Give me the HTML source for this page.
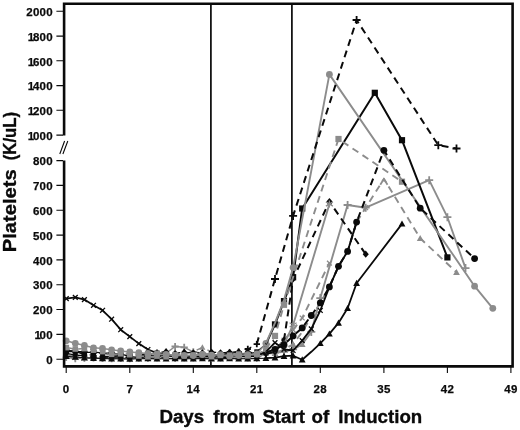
<!DOCTYPE html>
<html lang="en">
<head>
<meta charset="utf-8">
<title>Platelets by Days from Start of Induction</title>
<style>
html,body{margin:0;padding:0;background:#fff;}
body{width:520px;height:430px;overflow:hidden;}
svg{display:block;}
.t{font-family:"Liberation Sans",sans-serif;font-weight:bold;font-size:11.5px;fill:#0a0a0a;letter-spacing:0.3px;stroke:#0a0a0a;stroke-width:0.25px;}
.ttl{font-family:"Liberation Sans",sans-serif;font-weight:bold;font-size:18.7px;fill:#0a0a0a;stroke:#0a0a0a;stroke-width:0.35px;}
</style>
</head>
<body>
<svg width="520" height="430" viewBox="0 0 520 430">
<rect width="520" height="430" fill="#fff"/>
<path d="M210.9 4V366M291.9 4V366" stroke="#0a0a0a" stroke-width="1.7" fill="none"/>
<path d="M66.2 356.7L75.3 357.8L84.4 358.3L93.5 357.8L102.5 358.5L111.6 358.1L120.7 358.4L129.8 358.5L138.8 357.5L147.9 358.7L157 358.2L166.1 357.9L175.1 358.7L184.2 358.2L193.3 358.2L202.4 357.6L211.4 358.9L220.5 358.2L229.6 357.8L238.7 357.9L247.8 358.3L256.8 358.9L265.9 352.7" stroke="#8c8c8c" stroke-width="1.5" fill="none" stroke-linejoin="round"/>
<path d="M63.1 354.9L69.4 358.6M63.1 358.6L69.4 354.9M66.2 353.6V359.9" stroke="#8c8c8c" stroke-width="1.3" fill="none"/>
<path d="M72.2 355.9L78.5 359.7M72.2 359.7L78.5 355.9M75.3 354.7V361" stroke="#8c8c8c" stroke-width="1.3" fill="none"/>
<path d="M81.2 356.4L87.6 360.2M81.2 360.2L87.6 356.4M84.4 355.1V361.4" stroke="#8c8c8c" stroke-width="1.3" fill="none"/>
<path d="M90.3 355.9L96.6 359.7M90.3 359.7L96.6 355.9M93.5 354.6V360.9" stroke="#8c8c8c" stroke-width="1.3" fill="none"/>
<path d="M99.4 356.6L105.7 360.4M99.4 360.4L105.7 356.6M102.5 355.4V361.7" stroke="#8c8c8c" stroke-width="1.3" fill="none"/>
<path d="M108.5 356.2L114.8 360M108.5 360L114.8 356.2M111.6 355V361.3" stroke="#8c8c8c" stroke-width="1.3" fill="none"/>
<path d="M117.5 356.6L123.8 360.3M117.5 360.3L123.8 356.6M120.7 355.3V361.6" stroke="#8c8c8c" stroke-width="1.3" fill="none"/>
<path d="M126.6 356.6L132.9 360.3M126.6 360.3L132.9 356.6M129.8 355.3V361.6" stroke="#8c8c8c" stroke-width="1.3" fill="none"/>
<path d="M135.7 355.6L142 359.4M135.7 359.4L142 355.6M138.8 354.4V360.7" stroke="#8c8c8c" stroke-width="1.3" fill="none"/>
<path d="M144.8 356.9L151.1 360.6M144.8 360.6L151.1 356.9M147.9 355.6V361.9" stroke="#8c8c8c" stroke-width="1.3" fill="none"/>
<path d="M153.8 356.4L160.2 360.1M153.8 360.1L160.2 356.4M157 355.1V361.4" stroke="#8c8c8c" stroke-width="1.3" fill="none"/>
<path d="M162.9 356L169.2 359.8M162.9 359.8L169.2 356M166.1 354.7V361" stroke="#8c8c8c" stroke-width="1.3" fill="none"/>
<path d="M172 356.8L178.3 360.6M172 360.6L178.3 356.8M175.1 355.6V361.9" stroke="#8c8c8c" stroke-width="1.3" fill="none"/>
<path d="M181.1 356.3L187.4 360.1M181.1 360.1L187.4 356.3M184.2 355.1V361.4" stroke="#8c8c8c" stroke-width="1.3" fill="none"/>
<path d="M190.1 356.3L196.4 360.1M190.1 360.1L196.4 356.3M193.3 355.1V361.4" stroke="#8c8c8c" stroke-width="1.3" fill="none"/>
<path d="M199.2 355.7L205.5 359.5M199.2 359.5L205.5 355.7M202.4 354.4V360.7" stroke="#8c8c8c" stroke-width="1.3" fill="none"/>
<path d="M208.3 357L214.6 360.8M208.3 360.8L214.6 357M211.4 355.8V362.1" stroke="#8c8c8c" stroke-width="1.3" fill="none"/>
<path d="M217.4 356.3L223.7 360.1M217.4 360.1L223.7 356.3M220.5 355.1V361.4" stroke="#8c8c8c" stroke-width="1.3" fill="none"/>
<path d="M226.4 355.9L232.8 359.7M226.4 359.7L232.8 355.9M229.6 354.6V360.9" stroke="#8c8c8c" stroke-width="1.3" fill="none"/>
<path d="M235.5 356L241.8 359.8M235.5 359.8L241.8 356M238.7 354.8V361.1" stroke="#8c8c8c" stroke-width="1.3" fill="none"/>
<path d="M244.6 356.4L250.9 360.2M244.6 360.2L250.9 356.4M247.8 355.2V361.5" stroke="#8c8c8c" stroke-width="1.3" fill="none"/>
<path d="M253.7 357L260 360.8M253.7 360.8L260 357M256.8 355.8V362.1" stroke="#8c8c8c" stroke-width="1.3" fill="none"/>
<path d="M262.8 350.9L269 354.6M262.8 354.6L269 350.9M265.9 349.6V355.9" stroke="#8c8c8c" stroke-width="1.3" fill="none"/>
<path d="M66.2 357.5L75.3 358.6L84.4 358.1L93.5 357.9L102.5 358.5L111.6 358.6L120.7 358.4L129.8 358.7L138.8 358.1L147.9 358L157 357.2L166.1 353.2L175.1 346.5L184.2 347.3L193.3 351.8L202.4 353.3L211.4 354L220.5 355.9L229.6 354.6L238.7 353.4L247.8 353.5L256.8 354L265.9 352.4" stroke="#8c8c8c" stroke-width="1.5" fill="none" stroke-linejoin="round"/>
<path d="M62.6 357.5H69.8M66.2 353.9V361.1" stroke="#8c8c8c" stroke-width="1.8" fill="none"/>
<path d="M71.7 358.6H78.9M75.3 355V362.2" stroke="#8c8c8c" stroke-width="1.8" fill="none"/>
<path d="M80.8 358.1H88M84.4 354.5V361.7" stroke="#8c8c8c" stroke-width="1.8" fill="none"/>
<path d="M89.9 357.9H97.1M93.5 354.3V361.5" stroke="#8c8c8c" stroke-width="1.8" fill="none"/>
<path d="M99 358.5H106.1M102.5 354.9V362.1" stroke="#8c8c8c" stroke-width="1.8" fill="none"/>
<path d="M108 358.6H115.2M111.6 355V362.2" stroke="#8c8c8c" stroke-width="1.8" fill="none"/>
<path d="M117.1 358.4H124.3M120.7 354.8V362" stroke="#8c8c8c" stroke-width="1.8" fill="none"/>
<path d="M126.2 358.7H133.4M129.8 355.1V362.3" stroke="#8c8c8c" stroke-width="1.8" fill="none"/>
<path d="M135.2 358.1H142.4M138.8 354.5V361.7" stroke="#8c8c8c" stroke-width="1.8" fill="none"/>
<path d="M144.3 358H151.5M147.9 354.4V361.6" stroke="#8c8c8c" stroke-width="1.8" fill="none"/>
<path d="M153.4 357.2H160.6M157 353.6V360.8" stroke="#8c8c8c" stroke-width="1.8" fill="none"/>
<path d="M162.5 353.2H169.7M166.1 349.6V356.8" stroke="#8c8c8c" stroke-width="1.8" fill="none"/>
<path d="M171.5 346.5H178.7M175.1 342.9V350.1" stroke="#8c8c8c" stroke-width="1.8" fill="none"/>
<path d="M180.6 347.3H187.8M184.2 343.7V350.9" stroke="#8c8c8c" stroke-width="1.8" fill="none"/>
<path d="M189.7 351.8H196.9M193.3 348.2V355.4" stroke="#8c8c8c" stroke-width="1.8" fill="none"/>
<path d="M198.8 353.3H206M202.4 349.7V356.9" stroke="#8c8c8c" stroke-width="1.8" fill="none"/>
<path d="M207.8 354H215M211.4 350.4V357.6" stroke="#8c8c8c" stroke-width="1.8" fill="none"/>
<path d="M216.9 355.9H224.1M220.5 352.3V359.5" stroke="#8c8c8c" stroke-width="1.8" fill="none"/>
<path d="M226 354.6H233.2M229.6 351V358.2" stroke="#8c8c8c" stroke-width="1.8" fill="none"/>
<path d="M235.1 353.4H242.3M238.7 349.8V357" stroke="#8c8c8c" stroke-width="1.8" fill="none"/>
<path d="M244.2 353.5H251.3M247.8 349.9V357.1" stroke="#8c8c8c" stroke-width="1.8" fill="none"/>
<path d="M253.2 354H260.4M256.8 350.4V357.6" stroke="#8c8c8c" stroke-width="1.8" fill="none"/>
<path d="M262.3 352.4H269.5M265.9 348.8V356" stroke="#8c8c8c" stroke-width="1.8" fill="none"/>
<path d="M66.2 355.1L75.3 355.8L84.4 355.2L93.5 356.6L102.5 356.1L111.6 356.7L120.7 356.3L129.8 357.1L138.8 357.4L147.9 357.4L157 355L166.1 355.2L175.1 355L184.2 356.5L193.3 357.1L202.4 357.4L211.4 356.5L220.5 356.8L229.6 356.1L238.7 357.3L247.8 355L256.8 354.6L265.9 353.2" stroke="#8c8c8c" stroke-width="1.5" fill="none" stroke-linejoin="round" stroke-dasharray="7 5"/>
<path d="M64.1 352.9L68.4 357.2M64.1 357.2L68.4 352.9" stroke="#8c8c8c" stroke-width="1.3" fill="none"/>
<path d="M73.2 353.7L77.5 358M73.2 358L77.5 353.7" stroke="#8c8c8c" stroke-width="1.3" fill="none"/>
<path d="M82.2 353L86.6 357.3M82.2 357.3L86.6 353" stroke="#8c8c8c" stroke-width="1.3" fill="none"/>
<path d="M91.3 354.5L95.6 358.8M91.3 358.8L95.6 354.5" stroke="#8c8c8c" stroke-width="1.3" fill="none"/>
<path d="M100.4 353.9L104.7 358.2M100.4 358.2L104.7 353.9" stroke="#8c8c8c" stroke-width="1.3" fill="none"/>
<path d="M109.5 354.5L113.8 358.9M109.5 358.9L113.8 354.5" stroke="#8c8c8c" stroke-width="1.3" fill="none"/>
<path d="M118.5 354.1L122.9 358.5M118.5 358.5L122.9 354.1" stroke="#8c8c8c" stroke-width="1.3" fill="none"/>
<path d="M127.6 354.9L131.9 359.2M127.6 359.2L131.9 354.9" stroke="#8c8c8c" stroke-width="1.3" fill="none"/>
<path d="M136.7 355.2L141 359.6M136.7 359.6L141 355.2" stroke="#8c8c8c" stroke-width="1.3" fill="none"/>
<path d="M145.8 355.2L150.1 359.5M145.8 359.5L150.1 355.2" stroke="#8c8c8c" stroke-width="1.3" fill="none"/>
<path d="M154.8 352.9L159.2 357.2M154.8 357.2L159.2 352.9" stroke="#8c8c8c" stroke-width="1.3" fill="none"/>
<path d="M163.9 353.1L168.2 357.4M163.9 357.4L168.2 353.1" stroke="#8c8c8c" stroke-width="1.3" fill="none"/>
<path d="M173 352.9L177.3 357.2M173 357.2L177.3 352.9" stroke="#8c8c8c" stroke-width="1.3" fill="none"/>
<path d="M182.1 354.4L186.4 358.7M182.1 358.7L186.4 354.4" stroke="#8c8c8c" stroke-width="1.3" fill="none"/>
<path d="M191.1 354.9L195.5 359.2M191.1 359.2L195.5 354.9" stroke="#8c8c8c" stroke-width="1.3" fill="none"/>
<path d="M200.2 355.2L204.5 359.5M200.2 359.5L204.5 355.2" stroke="#8c8c8c" stroke-width="1.3" fill="none"/>
<path d="M209.3 354.3L213.6 358.6M209.3 358.6L213.6 354.3" stroke="#8c8c8c" stroke-width="1.3" fill="none"/>
<path d="M218.4 354.7L222.7 359M218.4 359L222.7 354.7" stroke="#8c8c8c" stroke-width="1.3" fill="none"/>
<path d="M227.4 354L231.8 358.3M227.4 358.3L231.8 354" stroke="#8c8c8c" stroke-width="1.3" fill="none"/>
<path d="M236.5 355.1L240.8 359.4M236.5 359.4L240.8 355.1" stroke="#8c8c8c" stroke-width="1.3" fill="none"/>
<path d="M245.6 352.8L249.9 357.1M245.6 357.1L249.9 352.8" stroke="#8c8c8c" stroke-width="1.3" fill="none"/>
<path d="M254.7 352.4L259 356.8M254.7 356.8L259 352.4" stroke="#8c8c8c" stroke-width="1.3" fill="none"/>
<path d="M263.7 351.1L268.1 355.4M263.7 355.4L268.1 351.1" stroke="#8c8c8c" stroke-width="1.3" fill="none"/>
<path d="M66.2 350.3L75.3 351.7L84.4 352.6L93.5 353.6L102.5 353L111.6 355.6L120.7 355.5L129.8 354.6L138.8 353.8L147.9 354.7L157 355.3L166.1 355.3L175.1 354.8L184.2 354.5L193.3 351.8L202.4 347.3L211.4 351.8L220.5 354.8L229.6 354.5L238.7 355.4L247.8 355.9L256.8 355L265.9 353.4" stroke="#8c8c8c" stroke-width="1.5" fill="none" stroke-linejoin="round" stroke-dasharray="7 5"/>
<path d="M66.2 347.2L69.3 352.8L63.2 352.8Z" fill="#8c8c8c"/>
<path d="M75.3 348.6L78.4 354.1L72.3 354.1Z" fill="#8c8c8c"/>
<path d="M84.4 349.5L87.5 355L81.3 355Z" fill="#8c8c8c"/>
<path d="M93.5 350.5L96.5 356L90.4 356Z" fill="#8c8c8c"/>
<path d="M102.5 350L105.6 355.5L99.5 355.5Z" fill="#8c8c8c"/>
<path d="M111.6 352.5L114.7 358L108.6 358Z" fill="#8c8c8c"/>
<path d="M120.7 352.5L123.8 358L117.6 358Z" fill="#8c8c8c"/>
<path d="M129.8 351.6L132.8 357.1L126.7 357.1Z" fill="#8c8c8c"/>
<path d="M138.8 350.7L141.9 356.2L135.8 356.2Z" fill="#8c8c8c"/>
<path d="M147.9 351.6L151 357.1L144.9 357.1Z" fill="#8c8c8c"/>
<path d="M157 352.3L160.1 357.8L153.9 357.8Z" fill="#8c8c8c"/>
<path d="M166.1 352.2L169.1 357.7L163 357.7Z" fill="#8c8c8c"/>
<path d="M175.1 351.8L178.2 357.3L172.1 357.3Z" fill="#8c8c8c"/>
<path d="M184.2 351.4L187.3 356.9L181.2 356.9Z" fill="#8c8c8c"/>
<path d="M193.3 348.7L196.4 354.2L190.2 354.2Z" fill="#8c8c8c"/>
<path d="M202.4 344.2L205.4 349.7L199.3 349.7Z" fill="#8c8c8c"/>
<path d="M211.4 348.7L214.5 354.2L208.4 354.2Z" fill="#8c8c8c"/>
<path d="M220.5 351.8L223.6 357.3L217.5 357.3Z" fill="#8c8c8c"/>
<path d="M229.6 351.4L232.7 356.9L226.5 356.9Z" fill="#8c8c8c"/>
<path d="M238.7 352.4L241.7 357.9L235.6 357.9Z" fill="#8c8c8c"/>
<path d="M247.8 352.8L250.8 358.3L244.7 358.3Z" fill="#8c8c8c"/>
<path d="M256.8 351.9L259.9 357.4L253.8 357.4Z" fill="#8c8c8c"/>
<path d="M265.9 350.4L269 355.9L262.8 355.9Z" fill="#8c8c8c"/>
<path d="M66.2 356.2L75.3 357L84.4 357.7L93.5 358.2L102.5 358.5L111.6 358.7L120.7 358.7L129.8 359L138.8 358.7L147.9 358.5L157 358.7L166.1 358.7L175.1 358.5L184.2 358.7L193.3 358.7L202.4 358.5L211.4 358.7L220.5 358.7L229.6 358.5L238.7 358.7L247.8 358.7L256.8 358.5L265.9 358.2" stroke="#0a0a0a" stroke-width="1.1" fill="none" stroke-linejoin="round"/>
<path d="M66.2 352.8L69.7 358.9L62.9 358.9Z" fill="#0a0a0a"/>
<path d="M75.3 353.6L78.7 359.7L71.9 359.7Z" fill="#0a0a0a"/>
<path d="M84.4 354.3L87.8 360.4L81 360.4Z" fill="#0a0a0a"/>
<path d="M93.5 354.8L96.9 360.9L90.1 360.9Z" fill="#0a0a0a"/>
<path d="M102.5 355.1L106 361.2L99.1 361.2Z" fill="#0a0a0a"/>
<path d="M111.6 355.3L115 361.4L108.2 361.4Z" fill="#0a0a0a"/>
<path d="M120.7 355.3L124.1 361.4L117.3 361.4Z" fill="#0a0a0a"/>
<path d="M129.8 355.6L133.2 361.7L126.4 361.7Z" fill="#0a0a0a"/>
<path d="M138.8 355.3L142.2 361.4L135.4 361.4Z" fill="#0a0a0a"/>
<path d="M147.9 355.1L151.3 361.2L144.5 361.2Z" fill="#0a0a0a"/>
<path d="M157 355.3L160.4 361.4L153.6 361.4Z" fill="#0a0a0a"/>
<path d="M166.1 355.3L169.5 361.4L162.7 361.4Z" fill="#0a0a0a"/>
<path d="M175.1 355.1L178.5 361.2L171.7 361.2Z" fill="#0a0a0a"/>
<path d="M184.2 355.3L187.6 361.4L180.8 361.4Z" fill="#0a0a0a"/>
<path d="M193.3 355.3L196.7 361.4L189.9 361.4Z" fill="#0a0a0a"/>
<path d="M202.4 355.1L205.8 361.2L199 361.2Z" fill="#0a0a0a"/>
<path d="M211.4 355.3L214.8 361.4L208 361.4Z" fill="#0a0a0a"/>
<path d="M220.5 355.3L223.9 361.4L217.1 361.4Z" fill="#0a0a0a"/>
<path d="M229.6 355.1L233 361.2L226.2 361.2Z" fill="#0a0a0a"/>
<path d="M238.7 355.3L242.1 361.4L235.3 361.4Z" fill="#0a0a0a"/>
<path d="M247.8 355.3L251.2 361.4L244.3 361.4Z" fill="#0a0a0a"/>
<path d="M256.8 355.1L260.2 361.2L253.4 361.2Z" fill="#0a0a0a"/>
<path d="M265.9 354.8L269.3 360.9L262.5 360.9Z" fill="#0a0a0a"/>
<path d="M66.2 298.6L75.3 297.4L84.4 299.6L93.5 305.3L102.5 310.3L111.6 319.2L120.7 329.7L129.8 336.6L138.8 343.6L147.9 349.5L157 353L166.1 354.4L175.1 356.1L184.2 356L193.3 356.5L202.4 356.3L211.4 355.9L220.5 355.4L229.6 353.8L238.7 355.7L247.8 356.6L256.8 355.8L265.9 351.8" stroke="#0a0a0a" stroke-width="1.8" fill="none" stroke-linejoin="round"/>
<path d="M63.9 296.2L68.7 301M63.9 301L68.7 296.2" stroke="#0a0a0a" stroke-width="1.3" fill="none"/>
<path d="M72.9 295L77.7 299.8M72.9 299.8L77.7 295" stroke="#0a0a0a" stroke-width="1.3" fill="none"/>
<path d="M82 297.2L86.8 302M82 302L86.8 297.2" stroke="#0a0a0a" stroke-width="1.3" fill="none"/>
<path d="M91.1 302.9L95.9 307.7M91.1 307.7L95.9 302.9" stroke="#0a0a0a" stroke-width="1.3" fill="none"/>
<path d="M100.1 307.9L105 312.7M100.1 312.7L105 307.9" stroke="#0a0a0a" stroke-width="1.3" fill="none"/>
<path d="M109.2 316.8L114 321.6M109.2 321.6L114 316.8" stroke="#0a0a0a" stroke-width="1.3" fill="none"/>
<path d="M118.3 327.3L123.1 332.1M118.3 332.1L123.1 327.3" stroke="#0a0a0a" stroke-width="1.3" fill="none"/>
<path d="M127.4 334.2L132.2 339M127.4 339L132.2 334.2" stroke="#0a0a0a" stroke-width="1.3" fill="none"/>
<path d="M136.4 341.2L141.2 346M136.4 346L141.2 341.2" stroke="#0a0a0a" stroke-width="1.3" fill="none"/>
<path d="M145.5 347.1L150.3 351.9M145.5 351.9L150.3 347.1" stroke="#0a0a0a" stroke-width="1.3" fill="none"/>
<path d="M154.6 350.6L159.4 355.4M154.6 355.4L159.4 350.6" stroke="#0a0a0a" stroke-width="1.3" fill="none"/>
<path d="M163.7 352L168.5 356.8M163.7 356.8L168.5 352" stroke="#0a0a0a" stroke-width="1.3" fill="none"/>
<path d="M172.7 353.7L177.5 358.5M172.7 358.5L177.5 353.7" stroke="#0a0a0a" stroke-width="1.3" fill="none"/>
<path d="M181.8 353.6L186.6 358.4M181.8 358.4L186.6 353.6" stroke="#0a0a0a" stroke-width="1.3" fill="none"/>
<path d="M190.9 354.1L195.7 358.9M190.9 358.9L195.7 354.1" stroke="#0a0a0a" stroke-width="1.3" fill="none"/>
<path d="M200 353.9L204.8 358.7M200 358.7L204.8 353.9" stroke="#0a0a0a" stroke-width="1.3" fill="none"/>
<path d="M209 353.5L213.8 358.3M209 358.3L213.8 353.5" stroke="#0a0a0a" stroke-width="1.3" fill="none"/>
<path d="M218.1 353L222.9 357.8M218.1 357.8L222.9 353" stroke="#0a0a0a" stroke-width="1.3" fill="none"/>
<path d="M227.2 351.4L232 356.2M227.2 356.2L232 351.4" stroke="#0a0a0a" stroke-width="1.3" fill="none"/>
<path d="M236.3 353.3L241.1 358.1M236.3 358.1L241.1 353.3" stroke="#0a0a0a" stroke-width="1.3" fill="none"/>
<path d="M245.3 354.2L250.2 359M245.3 359L250.2 354.2" stroke="#0a0a0a" stroke-width="1.3" fill="none"/>
<path d="M254.4 353.4L259.2 358.2M254.4 358.2L259.2 353.4" stroke="#0a0a0a" stroke-width="1.3" fill="none"/>
<path d="M263.5 349.4L268.3 354.2M263.5 354.2L268.3 349.4" stroke="#0a0a0a" stroke-width="1.3" fill="none"/>
<path d="M66.2 353.3L75.3 355.1L84.4 355.7L93.5 357.4L102.5 356.5L111.6 356.7L120.7 355.5L129.8 355.7L138.8 355.3L147.9 354.2L157 352.7L166.1 351.7L175.1 353.3L184.2 352.2L193.3 352.8L202.4 352.9L211.4 352.1L220.5 352.8L229.6 352.3L238.7 351.8L247.8 351.9L256.8 353.4L265.9 353.7" stroke="#0a0a0a" stroke-width="1.2" fill="none" stroke-linejoin="round" stroke-dasharray="7 5"/>
<path d="M66.2 349.7L69.3 353.3L66.2 356.9L63.2 353.3Z" fill="#0a0a0a"/>
<path d="M75.3 351.5L78.4 355.1L75.3 358.7L72.3 355.1Z" fill="#0a0a0a"/>
<path d="M84.4 352.1L87.5 355.7L84.4 359.3L81.3 355.7Z" fill="#0a0a0a"/>
<path d="M93.5 353.8L96.5 357.4L93.5 361L90.4 357.4Z" fill="#0a0a0a"/>
<path d="M102.5 352.9L105.6 356.5L102.5 360.1L99.5 356.5Z" fill="#0a0a0a"/>
<path d="M111.6 353.1L114.7 356.7L111.6 360.3L108.6 356.7Z" fill="#0a0a0a"/>
<path d="M120.7 351.9L123.8 355.5L120.7 359.1L117.6 355.5Z" fill="#0a0a0a"/>
<path d="M129.8 352.1L132.8 355.7L129.8 359.3L126.7 355.7Z" fill="#0a0a0a"/>
<path d="M138.8 351.7L141.9 355.3L138.8 358.9L135.8 355.3Z" fill="#0a0a0a"/>
<path d="M147.9 350.6L151 354.2L147.9 357.8L144.9 354.2Z" fill="#0a0a0a"/>
<path d="M157 349.1L160.1 352.7L157 356.3L153.9 352.7Z" fill="#0a0a0a"/>
<path d="M166.1 348.1L169.1 351.7L166.1 355.3L163 351.7Z" fill="#0a0a0a"/>
<path d="M175.1 349.7L178.2 353.3L175.1 356.9L172.1 353.3Z" fill="#0a0a0a"/>
<path d="M184.2 348.6L187.3 352.2L184.2 355.8L181.2 352.2Z" fill="#0a0a0a"/>
<path d="M193.3 349.2L196.4 352.8L193.3 356.4L190.2 352.8Z" fill="#0a0a0a"/>
<path d="M202.4 349.3L205.4 352.9L202.4 356.5L199.3 352.9Z" fill="#0a0a0a"/>
<path d="M211.4 348.5L214.5 352.1L211.4 355.7L208.4 352.1Z" fill="#0a0a0a"/>
<path d="M220.5 349.2L223.6 352.8L220.5 356.4L217.5 352.8Z" fill="#0a0a0a"/>
<path d="M229.6 348.7L232.7 352.3L229.6 355.9L226.5 352.3Z" fill="#0a0a0a"/>
<path d="M238.7 348.2L241.7 351.8L238.7 355.4L235.6 351.8Z" fill="#0a0a0a"/>
<path d="M247.8 348.3L250.8 351.9L247.8 355.5L244.7 351.9Z" fill="#0a0a0a"/>
<path d="M256.8 349.8L259.9 353.4L256.8 357L253.8 353.4Z" fill="#0a0a0a"/>
<path d="M265.9 350.1L269 353.7L265.9 357.3L262.8 353.7Z" fill="#0a0a0a"/>
<path d="M66.2 351.7L75.3 351.5L84.4 354.6L93.5 355L102.5 357.3L111.6 357L120.7 357.2L129.8 357.4L138.8 357.7L147.9 356.7L157 356.5L166.1 358L175.1 358.5L184.2 357.5L193.3 356L202.4 356.8L211.4 355.9L220.5 357.8L229.6 357.3L238.7 355.7L247.8 356L256.8 355.2L265.9 352.7" stroke="#0a0a0a" stroke-width="1.2" fill="none" stroke-linejoin="round" stroke-dasharray="7 5"/>
<circle cx="66.2" cy="351.7" r="2.7" fill="#0a0a0a"/>
<circle cx="75.3" cy="351.5" r="2.7" fill="#0a0a0a"/>
<circle cx="84.4" cy="354.6" r="2.7" fill="#0a0a0a"/>
<circle cx="93.5" cy="355" r="2.7" fill="#0a0a0a"/>
<circle cx="102.5" cy="357.3" r="2.7" fill="#0a0a0a"/>
<circle cx="111.6" cy="357" r="2.7" fill="#0a0a0a"/>
<circle cx="120.7" cy="357.2" r="2.7" fill="#0a0a0a"/>
<circle cx="129.8" cy="357.4" r="2.7" fill="#0a0a0a"/>
<circle cx="138.8" cy="357.7" r="2.7" fill="#0a0a0a"/>
<circle cx="147.9" cy="356.7" r="2.7" fill="#0a0a0a"/>
<circle cx="157" cy="356.5" r="2.7" fill="#0a0a0a"/>
<circle cx="166.1" cy="358" r="2.7" fill="#0a0a0a"/>
<circle cx="175.1" cy="358.5" r="2.7" fill="#0a0a0a"/>
<circle cx="184.2" cy="357.5" r="2.7" fill="#0a0a0a"/>
<circle cx="193.3" cy="356" r="2.7" fill="#0a0a0a"/>
<circle cx="202.4" cy="356.8" r="2.7" fill="#0a0a0a"/>
<circle cx="211.4" cy="355.9" r="2.7" fill="#0a0a0a"/>
<circle cx="220.5" cy="357.8" r="2.7" fill="#0a0a0a"/>
<circle cx="229.6" cy="357.3" r="2.7" fill="#0a0a0a"/>
<circle cx="238.7" cy="355.7" r="2.7" fill="#0a0a0a"/>
<circle cx="247.8" cy="356" r="2.7" fill="#0a0a0a"/>
<circle cx="256.8" cy="355.2" r="2.7" fill="#0a0a0a"/>
<circle cx="265.9" cy="352.7" r="2.7" fill="#0a0a0a"/>
<path d="M66.2 351.2L75.3 351.2L84.4 352.6L93.5 352.1L102.5 352.9L111.6 353.8L120.7 353.9L129.8 356.6L138.8 357.3L147.9 356.2L157 356.1L166.1 355.7L175.1 356.9L184.2 357.8L193.3 356.5L202.4 356.3L211.4 357.1L220.5 356.8L229.6 356.5L238.7 354.3L247.8 354.2L256.8 351.8L265.9 344.3" stroke="#0a0a0a" stroke-width="1.2" fill="none" stroke-linejoin="round"/>
<rect x="63.8" y="348.7" width="5" height="5" fill="#0a0a0a"/>
<rect x="72.8" y="348.7" width="5" height="5" fill="#0a0a0a"/>
<rect x="81.9" y="350.1" width="5" height="5" fill="#0a0a0a"/>
<rect x="91" y="349.6" width="5" height="5" fill="#0a0a0a"/>
<rect x="100.1" y="350.4" width="5" height="5" fill="#0a0a0a"/>
<rect x="109.1" y="351.3" width="5" height="5" fill="#0a0a0a"/>
<rect x="118.2" y="351.5" width="5" height="5" fill="#0a0a0a"/>
<rect x="127.3" y="354.1" width="5" height="5" fill="#0a0a0a"/>
<rect x="136.4" y="354.8" width="5" height="5" fill="#0a0a0a"/>
<rect x="145.4" y="353.7" width="5" height="5" fill="#0a0a0a"/>
<rect x="154.5" y="353.6" width="5" height="5" fill="#0a0a0a"/>
<rect x="163.6" y="353.2" width="5" height="5" fill="#0a0a0a"/>
<rect x="172.7" y="354.4" width="5" height="5" fill="#0a0a0a"/>
<rect x="181.7" y="355.3" width="5" height="5" fill="#0a0a0a"/>
<rect x="190.8" y="354" width="5" height="5" fill="#0a0a0a"/>
<rect x="199.9" y="353.9" width="5" height="5" fill="#0a0a0a"/>
<rect x="209" y="354.6" width="5" height="5" fill="#0a0a0a"/>
<rect x="218" y="354.3" width="5" height="5" fill="#0a0a0a"/>
<rect x="227.1" y="354" width="5" height="5" fill="#0a0a0a"/>
<rect x="236.2" y="351.8" width="5" height="5" fill="#0a0a0a"/>
<rect x="245.3" y="351.8" width="5" height="5" fill="#0a0a0a"/>
<rect x="254.3" y="349.3" width="5" height="5" fill="#0a0a0a"/>
<rect x="263.4" y="341.8" width="5" height="5" fill="#0a0a0a"/>
<path d="M66.2 350.1L75.3 351.5L84.4 351.6L93.5 352.3L102.5 353L111.6 353L120.7 354.1L129.8 354.4L138.8 354.6L147.9 355.4L157 355.9L166.1 354.6L175.1 356.1L184.2 356.1L193.3 355.2L202.4 354.7L211.4 355.6L220.5 355.1L229.6 352.7L238.7 351.8L247.8 349L256.8 344.1" stroke="#0a0a0a" stroke-width="1.2" fill="none" stroke-linejoin="round" stroke-dasharray="7 5"/>
<path d="M63 350.1H69.5M66.2 346.9V353.3" stroke="#0a0a0a" stroke-width="1.8" fill="none"/>
<path d="M72.1 351.5H78.5M75.3 348.3V354.7" stroke="#0a0a0a" stroke-width="1.8" fill="none"/>
<path d="M81.2 351.6H87.6M84.4 348.4V354.8" stroke="#0a0a0a" stroke-width="1.8" fill="none"/>
<path d="M90.3 352.3H96.7M93.5 349.1V355.5" stroke="#0a0a0a" stroke-width="1.8" fill="none"/>
<path d="M99.3 353H105.8M102.5 349.8V356.2" stroke="#0a0a0a" stroke-width="1.8" fill="none"/>
<path d="M108.4 353H114.8M111.6 349.8V356.2" stroke="#0a0a0a" stroke-width="1.8" fill="none"/>
<path d="M117.5 354.1H123.9M120.7 350.9V357.3" stroke="#0a0a0a" stroke-width="1.8" fill="none"/>
<path d="M126.6 354.4H133M129.8 351.2V357.6" stroke="#0a0a0a" stroke-width="1.8" fill="none"/>
<path d="M135.7 354.6H142M138.8 351.4V357.8" stroke="#0a0a0a" stroke-width="1.8" fill="none"/>
<path d="M144.7 355.4H151.1M147.9 352.2V358.6" stroke="#0a0a0a" stroke-width="1.8" fill="none"/>
<path d="M153.8 355.9H160.2M157 352.7V359.1" stroke="#0a0a0a" stroke-width="1.8" fill="none"/>
<path d="M162.9 354.6H169.3M166.1 351.4V357.8" stroke="#0a0a0a" stroke-width="1.8" fill="none"/>
<path d="M171.9 356.1H178.3M175.1 352.9V359.3" stroke="#0a0a0a" stroke-width="1.8" fill="none"/>
<path d="M181 356.1H187.4M184.2 352.9V359.3" stroke="#0a0a0a" stroke-width="1.8" fill="none"/>
<path d="M190.1 355.2H196.5M193.3 352V358.4" stroke="#0a0a0a" stroke-width="1.8" fill="none"/>
<path d="M199.2 354.7H205.6M202.4 351.5V357.9" stroke="#0a0a0a" stroke-width="1.8" fill="none"/>
<path d="M208.2 355.6H214.6M211.4 352.4V358.8" stroke="#0a0a0a" stroke-width="1.8" fill="none"/>
<path d="M217.3 355.1H223.7M220.5 351.9V358.3" stroke="#0a0a0a" stroke-width="1.8" fill="none"/>
<path d="M226.4 352.7H232.8M229.6 349.5V355.9" stroke="#0a0a0a" stroke-width="1.8" fill="none"/>
<path d="M235.5 351.8H241.9M238.7 348.6V355" stroke="#0a0a0a" stroke-width="1.8" fill="none"/>
<path d="M244.6 349H250.9M247.8 345.8V352.2" stroke="#0a0a0a" stroke-width="1.8" fill="none"/>
<path d="M253.6 344.1H260M256.8 340.9V347.3" stroke="#0a0a0a" stroke-width="1.8" fill="none"/>
<path d="M66.2 347.6L75.3 349L84.4 348.6L93.5 350.2L102.5 351.6L111.6 354.3L120.7 353.8L129.8 354.7L138.8 356L147.9 356.8L157 356.1L166.1 356.8L175.1 354.7L184.2 355.8L193.3 355.1L202.4 354.6L211.4 356.7L220.5 355.4L229.6 355.2L238.7 354.1L247.8 355.9L256.8 354.4L265.9 349.3" stroke="#8c8c8c" stroke-width="1.5" fill="none" stroke-linejoin="round" stroke-dasharray="7 5"/>
<rect x="63.5" y="344.8" width="5.6" height="5.6" fill="#8c8c8c"/>
<rect x="72.5" y="346.2" width="5.6" height="5.6" fill="#8c8c8c"/>
<rect x="81.6" y="345.8" width="5.6" height="5.6" fill="#8c8c8c"/>
<rect x="90.7" y="347.4" width="5.6" height="5.6" fill="#8c8c8c"/>
<rect x="99.8" y="348.8" width="5.6" height="5.6" fill="#8c8c8c"/>
<rect x="108.8" y="351.5" width="5.6" height="5.6" fill="#8c8c8c"/>
<rect x="117.9" y="351" width="5.6" height="5.6" fill="#8c8c8c"/>
<rect x="127" y="351.9" width="5.6" height="5.6" fill="#8c8c8c"/>
<rect x="136.1" y="353.2" width="5.6" height="5.6" fill="#8c8c8c"/>
<rect x="145.1" y="354" width="5.6" height="5.6" fill="#8c8c8c"/>
<rect x="154.2" y="353.3" width="5.6" height="5.6" fill="#8c8c8c"/>
<rect x="163.3" y="354" width="5.6" height="5.6" fill="#8c8c8c"/>
<rect x="172.4" y="351.9" width="5.6" height="5.6" fill="#8c8c8c"/>
<rect x="181.4" y="353" width="5.6" height="5.6" fill="#8c8c8c"/>
<rect x="190.5" y="352.3" width="5.6" height="5.6" fill="#8c8c8c"/>
<rect x="199.6" y="351.8" width="5.6" height="5.6" fill="#8c8c8c"/>
<rect x="208.7" y="353.9" width="5.6" height="5.6" fill="#8c8c8c"/>
<rect x="217.7" y="352.6" width="5.6" height="5.6" fill="#8c8c8c"/>
<rect x="226.8" y="352.4" width="5.6" height="5.6" fill="#8c8c8c"/>
<rect x="235.9" y="351.3" width="5.6" height="5.6" fill="#8c8c8c"/>
<rect x="245" y="353.1" width="5.6" height="5.6" fill="#8c8c8c"/>
<rect x="254" y="351.7" width="5.6" height="5.6" fill="#8c8c8c"/>
<rect x="263.1" y="346.5" width="5.6" height="5.6" fill="#8c8c8c"/>
<path d="M66.2 340.8L75.3 343.3L84.4 345.5L93.5 347.8L102.5 348.5L111.6 349.8L120.7 351L129.8 352L138.8 352.7L147.9 353.5L157 354L166.1 354.5L175.1 355.4L184.2 355.4L193.3 355.6L202.4 354.5L211.4 355.1L220.5 354.7L229.6 356.2L238.7 355.6L247.8 354.7L256.8 354L265.9 343.3" stroke="#8c8c8c" stroke-width="1.5" fill="none" stroke-linejoin="round"/>
<circle cx="66.2" cy="340.8" r="3.4" fill="#8c8c8c"/>
<circle cx="75.3" cy="343.3" r="3.4" fill="#8c8c8c"/>
<circle cx="84.4" cy="345.5" r="3.4" fill="#8c8c8c"/>
<circle cx="93.5" cy="347.8" r="3.4" fill="#8c8c8c"/>
<circle cx="102.5" cy="348.5" r="3.4" fill="#8c8c8c"/>
<circle cx="111.6" cy="349.8" r="3.4" fill="#8c8c8c"/>
<circle cx="120.7" cy="351" r="3.4" fill="#8c8c8c"/>
<circle cx="129.8" cy="352" r="3.4" fill="#8c8c8c"/>
<circle cx="138.8" cy="352.7" r="3.4" fill="#8c8c8c"/>
<circle cx="147.9" cy="353.5" r="3.4" fill="#8c8c8c"/>
<circle cx="157" cy="354" r="3.4" fill="#8c8c8c"/>
<circle cx="166.1" cy="354.5" r="3.4" fill="#8c8c8c"/>
<circle cx="175.1" cy="355.4" r="3.4" fill="#8c8c8c"/>
<circle cx="184.2" cy="355.4" r="3.4" fill="#8c8c8c"/>
<circle cx="193.3" cy="355.6" r="3.4" fill="#8c8c8c"/>
<circle cx="202.4" cy="354.5" r="3.4" fill="#8c8c8c"/>
<circle cx="211.4" cy="355.1" r="3.4" fill="#8c8c8c"/>
<circle cx="220.5" cy="354.7" r="3.4" fill="#8c8c8c"/>
<circle cx="229.6" cy="356.2" r="3.4" fill="#8c8c8c"/>
<circle cx="238.7" cy="355.6" r="3.4" fill="#8c8c8c"/>
<circle cx="247.8" cy="354.7" r="3.4" fill="#8c8c8c"/>
<circle cx="256.8" cy="354" r="3.4" fill="#8c8c8c"/>
<circle cx="265.9" cy="343.3" r="3.4" fill="#8c8c8c"/>
<path d="M265.9 352.4L275 352.7L284 351.8L293.1 349.3L302.2 344.3L311.3 331.9L320.3 298.1L347.6 205L365.7 207.7L429.2 180.2L447.4 217.2L465.5 268.1" stroke="#8c8c8c" stroke-width="1.9" fill="none" stroke-linejoin="round"/>
<path d="M271 352.7H279M275 348.7V356.7" stroke="#8c8c8c" stroke-width="1.8" fill="none"/>
<path d="M280 351.8H288M284 347.8V355.8" stroke="#8c8c8c" stroke-width="1.8" fill="none"/>
<path d="M289.1 349.3H297.1M293.1 345.3V353.3" stroke="#8c8c8c" stroke-width="1.8" fill="none"/>
<path d="M302.2 340.9L305.6 347L298.8 347Z" fill="#8c8c8c"/>
<path d="M307.3 331.9H315.3M311.3 327.9V335.9" stroke="#8c8c8c" stroke-width="1.8" fill="none"/>
<path d="M316.3 298.1H324.3M320.3 294.1V302.1" stroke="#8c8c8c" stroke-width="1.8" fill="none"/>
<path d="M343.6 205H351.6M347.6 201V209" stroke="#8c8c8c" stroke-width="1.8" fill="none"/>
<path d="M361.7 207.7H369.7M365.7 203.7V211.7" stroke="#8c8c8c" stroke-width="1.8" fill="none"/>
<path d="M425.2 180.2H433.2M429.2 176.2V184.2" stroke="#8c8c8c" stroke-width="1.8" fill="none"/>
<path d="M443.4 217.2H451.4M447.4 213.2V221.2" stroke="#8c8c8c" stroke-width="1.8" fill="none"/>
<path d="M461.5 268.1H469.5M465.5 264.1V272.1" stroke="#8c8c8c" stroke-width="1.8" fill="none"/>
<path d="M265.9 353.2L275 349.3L284 340.1L293.1 329.9L302.2 318L329.4 263.1" stroke="#8c8c8c" stroke-width="1.9" fill="none" stroke-linejoin="round" stroke-dasharray="7 5"/>
<path d="M272.6 346.9L277.4 351.7M272.6 351.7L277.4 346.9" stroke="#8c8c8c" stroke-width="1.3" fill="none"/>
<path d="M281.6 337.7L286.4 342.5M281.6 342.5L286.4 337.7" stroke="#8c8c8c" stroke-width="1.3" fill="none"/>
<path d="M290.7 327.5L295.5 332.3M290.7 332.3L295.5 327.5" stroke="#8c8c8c" stroke-width="1.3" fill="none"/>
<path d="M299.8 315.6L304.6 320.4M299.8 320.4L304.6 315.6" stroke="#8c8c8c" stroke-width="1.3" fill="none"/>
<path d="M327 260.7L331.8 265.5M327 265.5L331.8 260.7" stroke="#8c8c8c" stroke-width="1.3" fill="none"/>
<path d="M265.9 353.4L275 353.2L284 349.3L293.1 344.3L302.2 331.9L311.3 317L320.3 302.8L329.4 286.9L338.5 266.3L347.6 251.4L356.6 222.4L365.7 207.7L383.9 178.9L420.2 238.3L456.5 272.3" stroke="#8c8c8c" stroke-width="1.9" fill="none" stroke-linejoin="round" stroke-dasharray="7 5"/>
<path d="M275 349.8L278.4 356L271.6 356Z" fill="#8c8c8c"/>
<path d="M284 345.9L287.4 352L280.6 352Z" fill="#8c8c8c"/>
<path d="M293.1 340.9L296.5 347L289.7 347Z" fill="#8c8c8c"/>
<path d="M363.3 205.3L368.1 210.1M363.3 210.1L368.1 205.3" stroke="#8c8c8c" stroke-width="1.3" fill="none"/>
<path d="M380.3 184.7L383.9 178.9L387.5 184.7" stroke="#8c8c8c" stroke-width="1.8" fill="none"/>
<path d="M420.2 234.9L423.6 241L416.8 241Z" fill="#8c8c8c"/>
<path d="M456.5 268.9L459.9 275L453.1 275Z" fill="#8c8c8c"/>
<path d="M265.9 358.2L275 357.7L284 356.2L293.1 355.7L302.2 359.7L311.3 351.8L320.3 343.3L329.4 333.9L338.5 322.9L347.6 308.3L356.6 283.2L402 223.9" stroke="#0a0a0a" stroke-width="1.8" fill="none" stroke-linejoin="round"/>
<path d="M275 354.3L278.4 360.4L271.6 360.4Z" fill="#0a0a0a"/>
<path d="M284 352.8L287.4 358.9L280.6 358.9Z" fill="#0a0a0a"/>
<path d="M293.1 352.3L296.5 358.4L289.7 358.4Z" fill="#0a0a0a"/>
<path d="M302.2 356.3L305.6 362.4L298.8 362.4Z" fill="#0a0a0a"/>
<path d="M320.3 339.9L323.7 346L316.9 346Z" fill="#0a0a0a"/>
<path d="M329.4 330.5L332.8 336.6L326 336.6Z" fill="#0a0a0a"/>
<path d="M338.5 319.5L341.9 325.7L335.1 325.7Z" fill="#0a0a0a"/>
<path d="M347.6 304.9L351 311L344.2 311Z" fill="#0a0a0a"/>
<path d="M356.6 279.8L360 285.9L353.2 285.9Z" fill="#0a0a0a"/>
<path d="M402 220.5L405.4 226.6L398.6 226.6Z" fill="#0a0a0a"/>
<path d="M265.9 351.8L275 342.6L284 349.3L293.1 350.5L302.2 340.6L311.3 328.9L320.3 310.5L329.4 286.9L338.5 266.3L347.6 251.4L356.6 222.1" stroke="#0a0a0a" stroke-width="1.8" fill="none" stroke-linejoin="round"/>
<path d="M272.6 340.2L277.4 345M272.6 345L277.4 340.2" stroke="#0a0a0a" stroke-width="1.3" fill="none"/>
<path d="M281.6 346.9L286.4 351.7M281.6 351.7L286.4 346.9" stroke="#0a0a0a" stroke-width="1.3" fill="none"/>
<path d="M290.7 348.1L295.5 352.9M290.7 352.9L295.5 348.1" stroke="#0a0a0a" stroke-width="1.3" fill="none"/>
<path d="M299.8 338.2L304.6 343M299.8 343L304.6 338.2" stroke="#0a0a0a" stroke-width="1.3" fill="none"/>
<path d="M308.9 326.5L313.7 331.3M308.9 331.3L313.7 326.5" stroke="#0a0a0a" stroke-width="1.3" fill="none"/>
<path d="M317.9 308.1L322.7 312.9M317.9 312.9L322.7 308.1" stroke="#0a0a0a" stroke-width="1.3" fill="none"/>
<path d="M265.9 353.7L275 351.8L284 340.1L293.1 279L329.4 201.5L365.7 254.2" stroke="#0a0a0a" stroke-width="2" fill="none" stroke-linejoin="round" stroke-dasharray="7 5"/>
<path d="M275 348.2L278 351.8L275 355.4L271.9 351.8Z" fill="#0a0a0a"/>
<path d="M284 336.5L287.1 340.1L284 343.7L281 340.1Z" fill="#0a0a0a"/>
<path d="M293.1 275.4L296.2 279L293.1 282.6L290.1 279Z" fill="#0a0a0a"/>
<path d="M329.4 197.9L332.5 201.5L329.4 205.1L326.4 201.5Z" fill="#0a0a0a"/>
<path d="M365.7 250.6L368.8 254.2L365.7 257.8L362.7 254.2Z" fill="#0a0a0a"/>
<path d="M265.9 352.7L275 349.3L284 344.3L293.1 324.9L329.4 204" stroke="#8c8c8c" stroke-width="1.9" fill="none" stroke-linejoin="round"/>
<path d="M271.5 347.2L278.5 351.4M271.5 351.4L278.5 347.2M275 345.8V352.8" stroke="#8c8c8c" stroke-width="1.3" fill="none"/>
<path d="M280.5 342.2L287.5 346.4M280.5 346.4L287.5 342.2M284 340.8V347.8" stroke="#8c8c8c" stroke-width="1.3" fill="none"/>
<path d="M289.6 322.8L296.6 327M289.6 327L296.6 322.8M293.1 321.4V328.4" stroke="#8c8c8c" stroke-width="1.3" fill="none"/>
<path d="M325.9 201.9L332.9 206.1M325.9 206.1L332.9 201.9M329.4 200.5V207.5" stroke="#8c8c8c" stroke-width="1.3" fill="none"/>
<path d="M265.9 344.3L275 324.4L284 301.1L293.1 277.3L302.2 208.5L374.8 92.8L402 140.2L447.4 257.4" stroke="#0a0a0a" stroke-width="2" fill="none" stroke-linejoin="round"/>
<rect x="271.9" y="321.3" width="6.2" height="6.2" fill="#0a0a0a"/>
<rect x="280.9" y="298" width="6.2" height="6.2" fill="#0a0a0a"/>
<rect x="290" y="274.2" width="6.2" height="6.2" fill="#0a0a0a"/>
<rect x="299.1" y="205.4" width="6.2" height="6.2" fill="#0a0a0a"/>
<rect x="371.7" y="89.7" width="6.2" height="6.2" fill="#0a0a0a"/>
<rect x="398.9" y="137.1" width="6.2" height="6.2" fill="#0a0a0a"/>
<rect x="444.3" y="254.3" width="6.2" height="6.2" fill="#0a0a0a"/>
<path d="M265.9 349.3L275 335.9L284 304.8L338.5 139L402 181.7" stroke="#8c8c8c" stroke-width="1.9" fill="none" stroke-linejoin="round" stroke-dasharray="7 5"/>
<rect x="271.9" y="332.8" width="6.2" height="6.2" fill="#8c8c8c"/>
<rect x="280.9" y="301.7" width="6.2" height="6.2" fill="#8c8c8c"/>
<rect x="335.4" y="135.9" width="6.2" height="6.2" fill="#8c8c8c"/>
<rect x="398.9" y="178.6" width="6.2" height="6.2" fill="#8c8c8c"/>
<path d="M265.9 343.3L275 322.9L284 300.1L293.1 267.6L329.4 74.4L474.6 286.2L492.8 308.3" stroke="#8c8c8c" stroke-width="1.9" fill="none" stroke-linejoin="round"/>
<circle cx="293.1" cy="267.6" r="3.4" fill="#8c8c8c"/>
<circle cx="329.4" cy="74.4" r="3.4" fill="#8c8c8c"/>
<circle cx="474.6" cy="286.2" r="3.4" fill="#8c8c8c"/>
<circle cx="492.8" cy="308.3" r="3.4" fill="#8c8c8c"/>
<path d="M265.9 352.7L275 349.3L284 344.6L293.1 335.9L302.2 327.9L311.3 315.5L320.3 302.8L329.4 286.9L338.5 266.3L347.6 251.4L356.6 222.1L383.9 150.3L420.2 208.2L474.6 258.6" stroke="#0a0a0a" stroke-width="2" fill="none" stroke-linejoin="round" stroke-dasharray="7 5"/>
<circle cx="275" cy="349.3" r="3.4" fill="#0a0a0a"/>
<circle cx="284" cy="344.6" r="3.4" fill="#0a0a0a"/>
<circle cx="293.1" cy="335.9" r="3.4" fill="#0a0a0a"/>
<circle cx="302.2" cy="327.9" r="3.4" fill="#0a0a0a"/>
<circle cx="311.3" cy="315.5" r="3.4" fill="#0a0a0a"/>
<circle cx="320.3" cy="302.8" r="3.4" fill="#0a0a0a"/>
<circle cx="329.4" cy="286.9" r="3.4" fill="#0a0a0a"/>
<circle cx="338.5" cy="266.3" r="3.4" fill="#0a0a0a"/>
<circle cx="347.6" cy="251.4" r="3.4" fill="#0a0a0a"/>
<circle cx="356.6" cy="222.1" r="3.4" fill="#0a0a0a"/>
<circle cx="383.9" cy="150.3" r="3.4" fill="#0a0a0a"/>
<circle cx="420.2" cy="208.2" r="3.4" fill="#0a0a0a"/>
<circle cx="474.6" cy="258.6" r="3.4" fill="#0a0a0a"/>
<path d="M256.8 344.1L275 279L293.1 215.9L356.6 20L438.3 145.2L456.5 148.5" stroke="#0a0a0a" stroke-width="2" fill="none" stroke-linejoin="round" stroke-dasharray="7 5"/>
<path d="M271 279H279M275 275V283" stroke="#0a0a0a" stroke-width="1.8" fill="none"/>
<path d="M289.1 215.9H297.1M293.1 211.9V219.9" stroke="#0a0a0a" stroke-width="1.8" fill="none"/>
<path d="M352.6 20H360.6M356.6 16V24" stroke="#0a0a0a" stroke-width="1.8" fill="none"/>
<path d="M434.3 145.2H442.3M438.3 141.2V149.2" stroke="#0a0a0a" stroke-width="1.8" fill="none"/>
<path d="M452.5 148.5H460.5M456.5 144.5V152.5" stroke="#0a0a0a" stroke-width="1.8" fill="none"/>
<path d="M63 3.7H512.6V366.4H64.1V160.6M64.1 135.6V2.6" stroke="#0a0a0a" stroke-width="2.6" fill="none" stroke-linejoin="miter"/>
<path d="M59.8 154L64.6 141M62.9 154L67.8 141" stroke="#0a0a0a" stroke-width="1.1" fill="none"/>
<path d="M56.4 11.3H63M56.4 36.1H63M56.4 60.8H63M56.4 85.6H63M56.4 110.3H63M56.4 135.1H63M56.4 160.6H63M56.4 185.4H63M56.4 210.2H63M56.4 235.1H63M56.4 259.9H63M56.4 284.7H63M56.4 309.5H63M56.4 334.4H63M56.4 359.2H63M66.2 367V373M129.8 367V373M193.3 367V373M256.8 367V373M320.3 367V373M383.9 367V373M447.4 367V373M510.9 367V373" stroke="#0a0a0a" stroke-width="1.1" fill="none"/>
<text x="53" y="16" text-anchor="end" class="t">2000</text>
<text x="53" y="40.8" text-anchor="end" class="t">1<tspan dx="-1.6">800</tspan></text>
<text x="53" y="65.5" text-anchor="end" class="t">1<tspan dx="-1.6">600</tspan></text>
<text x="53" y="90.3" text-anchor="end" class="t">1<tspan dx="-1.6">400</tspan></text>
<text x="53" y="115" text-anchor="end" class="t">1<tspan dx="-1.6">200</tspan></text>
<text x="53" y="139.8" text-anchor="end" class="t">1<tspan dx="-1.6">000</tspan></text>
<text x="53" y="165.3" text-anchor="end" class="t">800</text>
<text x="53" y="190.1" text-anchor="end" class="t">700</text>
<text x="53" y="214.9" text-anchor="end" class="t">600</text>
<text x="53" y="239.8" text-anchor="end" class="t">500</text>
<text x="53" y="264.6" text-anchor="end" class="t">400</text>
<text x="53" y="289.4" text-anchor="end" class="t">300</text>
<text x="53" y="314.2" text-anchor="end" class="t">200</text>
<text x="53" y="339.1" text-anchor="end" class="t">1<tspan dx="-1.6">00</tspan></text>
<text x="53" y="363.9" text-anchor="end" class="t">0</text>
<text x="66.2" y="392.6" text-anchor="middle" class="t">0</text>
<text x="129.8" y="392.6" text-anchor="middle" class="t">7</text>
<text x="193.3" y="392.6" text-anchor="middle" class="t">14</text>
<text x="256.8" y="392.6" text-anchor="middle" class="t">21</text>
<text x="320.3" y="392.6" text-anchor="middle" class="t">28</text>
<text x="383.9" y="392.6" text-anchor="middle" class="t">35</text>
<text x="447.4" y="392.6" text-anchor="middle" class="t">42</text>
<text x="510.9" y="392.6" text-anchor="middle" class="t">49</text>
<text y="423.3" class="ttl"><tspan x="159.4">Days</tspan> <tspan x="213.3">from</tspan> <tspan x="262.4">Start</tspan> <tspan x="311.6">of</tspan> <tspan x="338.2">Induction</tspan></text>
<text transform="translate(16.2 252.3) rotate(-90)" class="ttl" textLength="83" lengthAdjust="spacingAndGlyphs">Platelets</text>
<text transform="translate(16.2 160.3) rotate(-90)" class="ttl" textLength="48.4" lengthAdjust="spacingAndGlyphs">(K/uL)</text>
</svg>
</body>
</html>
